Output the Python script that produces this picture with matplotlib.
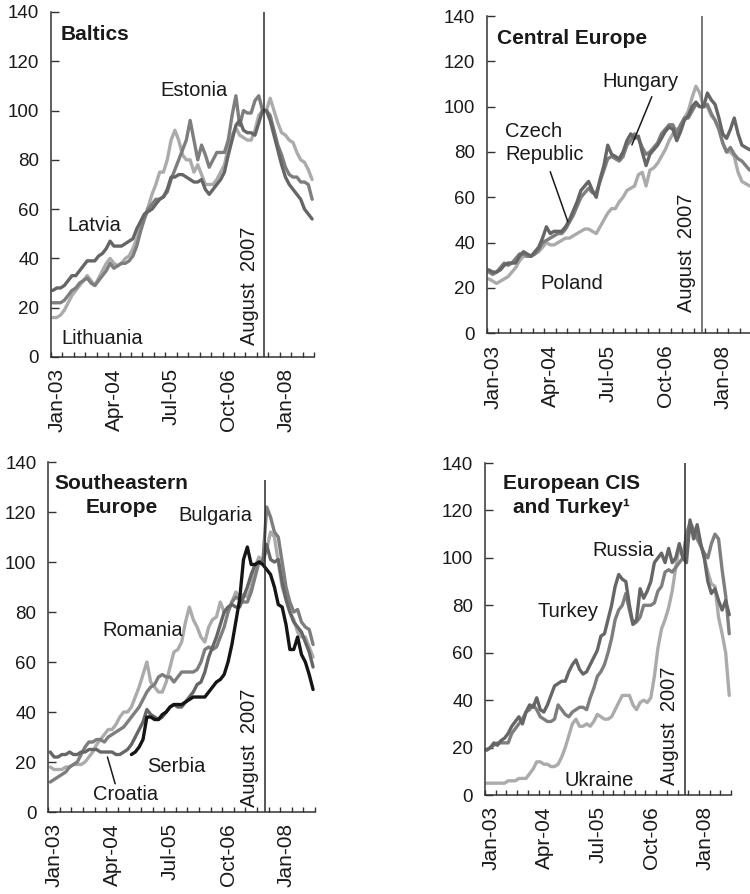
import numpy as np
import pandas as pd
import matplotlib
matplotlib.use('Agg')
import matplotlib.pyplot as plt
import matplotlib.transforms as mtransforms

plt.rcParams['font.family'] = ['Liberation Sans', 'DejaVu Sans']

# monthly observations, Jan 2003 - Sep 2008, index Aug 2007 = 100
months = pd.date_range('2003-01-01', '2008-09-01', freq='MS')
x = np.arange(len(months)) + 0.5
turmoil = months.get_loc(pd.Timestamp('2007-08-01')) + 1   # end of August 2007

tick_pos = [0, 15, 30, 45, 60]
tick_labels = ['Jan-03', 'Apr-04', 'Jul-05', 'Oct-06', 'Jan-08']

# Baltics
estonia = [22, 22, 22, 23, 25, 27, 28, 30, 31, 32,
           30, 29, 31, 33, 35, 38, 36, 37, 38, 38,
           39, 41, 45, 51, 56, 60, 62, 64, 64, 65,
           67, 72, 76, 80, 84, 88, 96, 88, 80, 86,
           82, 77, 80, 83, 83, 83, 88, 98, 106, 94,
           100, 99, 99, 104, 106, 100, 100, 98, 92, 86,
           82, 77, 74, 73, 73, 71, 71, 70, 64]
latvia = [27, 28, 28, 29, 31, 33, 33, 35, 37, 39,
          39, 39, 41, 42, 44, 47, 45, 45, 45, 46,
          47, 48, 52, 55, 58, 59, 60, 62, 64, 65,
          68, 73, 73, 74, 74, 73, 72, 71, 71, 72,
          68, 66, 68, 70, 72, 75, 82, 88, 94, 96,
          92, 91, 91, 90, 95, 100, 100, 96, 90, 84,
          78, 73, 70, 68, 66, 64, 60, 58, 56]
lithuania = [16, 16, 17, 19, 22, 25, 27, 29, 31, 33,
             31, 29, 32, 35, 38, 40, 38, 37, 38, 40,
             41, 44, 48, 53, 57, 61, 66, 70, 75, 75,
             80, 88, 92, 88, 82, 80, 80, 75, 78, 74,
             70, 70, 70, 72, 75, 78, 85, 90, 93, 90,
             89, 88, 88, 92, 98, 100, 100, 105, 100, 95,
             91, 90, 88, 87, 83, 80, 79, 76, 72]

# Central Europe
czech = [28, 27, 27, 28, 30, 31, 31, 31, 34, 36,
         35, 34, 36, 38, 42, 47, 44, 45, 45, 45,
         47, 50, 54, 58, 63, 65, 67, 63, 60, 68,
         74, 83, 79, 78, 77, 80, 85, 88, 86, 87,
         80, 74, 79, 81, 83, 86, 89, 91, 90, 85,
         89, 94, 96, 100, 102, 100, 100, 106, 103, 101,
         95, 88, 86, 90, 95, 88, 83, 82, 81]
hungary = [27, 26, 27, 29, 31, 30, 31, 33, 35, 35,
           34, 34, 35, 37, 40, 41, 42, 43, 44, 44,
           46, 49, 52, 56, 60, 62, 64, 62, 62, 67,
           72, 77, 78, 77, 76, 78, 83, 85, 88, 86,
           82, 79, 80, 82, 84, 88, 90, 92, 92, 88,
           92, 95, 95, 98, 101, 100, 100, 101, 97, 94,
           90, 84, 80, 82, 79, 77, 76, 74, 72]
poland = [24, 23, 22, 23, 24, 25, 27, 29, 32, 34,
          34, 34, 35, 36, 38, 40, 39, 39, 40, 41,
          42, 42, 43, 44, 45, 46, 46, 45, 44, 47,
          50, 53, 55, 55, 58, 60, 63, 64, 65, 70,
          71, 65, 72, 73, 75, 78, 81, 85, 88, 90,
          91, 95, 98, 104, 109, 106, 100, 100, 96, 94,
          90, 84, 80, 80, 78, 71, 67, 66, 65]

# Southeastern Europe
bulgaria = [12, 13, 14, 15, 16, 18, 19, 20, 23, 26,
            28, 28, 29, 29, 28, 30, 31, 32, 33, 34,
            36, 38, 40, 42, 45, 48, 50, 51, 54, 55,
            54, 54, 52, 54, 56, 56, 56, 56, 57, 60,
            65, 66, 65, 66, 70, 74, 80, 84, 86, 85,
            84, 84, 88, 94, 100, 100, 122, 118, 112, 110,
            100, 90, 84, 80, 81, 76, 74, 73, 67]
croatia = [24, 22, 22, 23, 23, 24, 23, 23, 24, 24,
           25, 25, 25, 24, 24, 24, 24, 23, 23, 24,
           25, 27, 30, 33, 36, 41, 39, 38, 37, 38,
           40, 42, 43, 42, 42, 44, 46, 48, 51, 52,
           56, 62, 66, 70, 75, 80, 82, 83, 82, 82,
           86, 90, 95, 99, 100, 100, 107, 101, 100, 101,
           92, 85, 80, 76, 74, 72, 68, 64, 58]
romania = [18, 17, 17, 17, 18, 18, 19, 19, 19, 20,
           22, 24, 27, 29, 31, 33, 33, 35, 38, 40,
           40, 42, 46, 50, 55, 60, 52, 50, 48, 48,
           52, 58, 64, 65, 68, 76, 82, 77, 74, 70,
           68, 74, 77, 78, 84, 80, 80, 84, 88, 86,
           87, 86, 90, 98, 102, 100, 105, 112, 110, 100,
           90, 85, 80, 77, 72, 70, 70, 66, 62]
serbia = [np.nan] * 21 + [
          23, 24, 26, 29, 38, 38, 37, 37, 39,
          40, 42, 43, 43, 43, 44, 45, 46, 46, 46,
          46, 48, 50, 52, 53, 55, 60, 67, 76, 85,
          101, 106, 99, 99, 100, 99, 97, 95, 90, 83,
          82, 75, 65, 65, 70, 63, 60, 55, 49]

# European CIS and Turkey
russia = [19, 20, 21, 22, 22, 22, 22, 26, 28, 30,
          32, 35, 36, 38, 36, 33, 32, 31, 31, 32,
          38, 36, 34, 33, 35, 36, 37, 37, 36, 41,
          45, 50, 52, 55, 60, 66, 74, 78, 80, 85,
          78, 72, 73, 75, 80, 80, 80, 81, 86, 88,
          94, 95, 94, 96, 98, 100, 110, 115, 112, 108,
          105, 102, 100, 106, 110, 108, 95, 84, 68]
turkey = [19, 20, 22, 21, 23, 24, 26, 29, 31, 33,
          30, 35, 38, 37, 41, 36, 35, 38, 42, 46,
          47, 48, 48, 52, 55, 57, 53, 51, 52, 55,
          58, 61, 67, 68, 74, 80, 88, 93, 91, 90,
          80, 72, 74, 87, 83, 86, 90, 98, 100, 102,
          98, 104, 98, 100, 106, 100, 98, 116, 108, 114,
          106, 100, 90, 85, 87, 82, 78, 82, 76]
ukraine = [5, 5, 5, 5, 5, 5, 6, 6, 6, 7,
           7, 7, 9, 11, 14, 14, 13, 13, 12, 12,
           13, 16, 20, 25, 30, 32, 29, 29, 30, 29,
           31, 34, 33, 32, 32, 33, 36, 39, 42, 42,
           42, 38, 36, 39, 40, 39, 41, 50, 62, 70,
           74, 79, 86, 96, 105, 100, 108, 113, 111, 112,
           106, 100, 94, 89, 88, 75, 68, 60, 42]

DARK, MID, LIGHT, BLACK = '#666666', '#7e7e7e', '#ababab', '#151515'
INK = '#1a1a1a'

fig = plt.figure(figsize=(7.5, 8.94), dpi=100)


def panel(rect, lines, vline_top=140, vline_color='#2a2a2a', aug_y=5):
    ax = fig.add_axes(rect)
    for vals, col in lines:
        ax.plot(x, vals, color=col, lw=2.4, solid_joinstyle='round',
                solid_capstyle='round', clip_on=True)
    ax.vlines(turmoil, 0, vline_top, color=vline_color, lw=1.1, zorder=5)
    ax.annotate('August  2007', xy=(turmoil, aug_y), xytext=(-4, 0),
                textcoords='offset points', rotation=90, ha='right',
                va='bottom', fontsize=14.5, color=INK)
    ax.set_xlim(0, 69)
    ax.set_ylim(0, 140)
    for s in ['top', 'right']:
        ax.spines[s].set_visible(False)
    for s in ['left', 'bottom']:
        ax.spines[s].set_color('#333333')
        ax.spines[s].set_linewidth(1.1)
    ax.set_yticks(range(0, 141, 20))
    ax.tick_params(axis='y', direction='in', length=5.5, width=1,
                   color='#333333', pad=8.5, labelsize=13.5, labelcolor=INK)
    ax.set_xticks(np.arange(0, 70, 3), minor=True)
    ax.set_xticks(tick_pos)
    ax.set_xticklabels(tick_labels, rotation=90)
    ax.tick_params(axis='x', which='both', direction='in', length=3.5,
                   width=1, color='#333333')
    ax.tick_params(axis='x', which='major', pad=8, labelsize=15,
                   labelcolor=INK)
    shift = mtransforms.ScaledTranslation(0.06, 0, fig.dpi_scale_trans)
    for lab in ax.get_xticklabels():
        lab.set_transform(lab.get_transform() + shift)
    return ax


def label(ax, x0, y0, s, **kw):
    kw.setdefault('ha', 'center')
    ax.text(x0, y0, s, va='center', fontsize=14.5, color=INK, **kw)


# Baltics
ax1 = panel([0.068, 0.6007, 0.3507, 0.3859],
            [(lithuania, LIGHT), (estonia, MID), (latvia, DARK)], aug_y=4.9)
ax1.text(2.4, 130.7, 'Baltics', fontsize=15, fontweight='bold',
         va='center', color=INK)
label(ax1, 37.6, 108.1, 'Estonia')
label(ax1, 11.4, 53.3, 'Latvia')
label(ax1, 13.3, 7.3, 'Lithuania')

# Central Europe
ax2 = panel([0.6493, 0.6272, 0.3527, 0.3549],
            [(poland, LIGHT), (hungary, MID), (czech, DARK)],
            vline_color='#555555', aug_y=9.5)
ax2.text(2.5, 130.2, 'Central Europe', fontsize=15, fontweight='bold',
         va='center', color=INK)
label(ax2, 40.0, 111.0, 'Hungary')
label(ax2, 4.7, 84.0, 'Czech\nRepublic', ha='left', linespacing=1.3)
label(ax2, 22.1, 21.8, 'Poland')
for (xa, ya), (xb, yb) in [((43.0, 104.4), (37.8, 83.1)),
                           ((16.5, 71.3), (21.1, 49.2))]:
    ax2.annotate('', xy=(xb, yb), xytext=(xa, ya),
                 arrowprops=dict(arrowstyle='-', color=INK, lw=1.1,
                                 shrinkA=0, shrinkB=0))

# Southeastern Europe
ax3 = panel([0.0644, 0.0917, 0.3556, 0.3915],
            [(romania, LIGHT), (bulgaria, MID), (croatia, DARK),
             (serbia, BLACK)], vline_top=133, aug_y=2)
ax3.text(19.0, 126.7, 'Southeastern\nEurope', fontsize=15, fontweight='bold',
         ha='center', va='center', multialignment='center',
         linespacing=1.35, color=INK)
label(ax3, 43.1, 118.7, 'Bulgaria')
label(ax3, 24.4, 72.7, 'Romania')
label(ax3, 33.0, 18.3, 'Serbia')
label(ax3, 20.0, 6.9, 'Croatia')
ax3.annotate('', xy=(15.3, 22.0), xytext=(17.3, 11.3),
             arrowprops=dict(arrowstyle='-', color=INK, lw=1.1,
                             shrinkA=0, shrinkB=0))

# European CIS and Turkey
ax4 = panel([0.6467, 0.1107, 0.328, 0.3714],
            [(ukraine, LIGHT), (russia, MID), (turkey, DARK)], aug_y=4.2)
ax4.text(24.3, 126.2, 'European CIS\nand Turkey\u00b9', fontsize=15,
         fontweight='bold', ha='center', va='center',
         multialignment='center', linespacing=1.32, color=INK)
label(ax4, 38.8, 103.2, 'Russia')
label(ax4, 23.4, 77.2, 'Turkey')
label(ax4, 32.0, 6.2, 'Ukraine')

fig.savefig('out.png', dpi=100)
